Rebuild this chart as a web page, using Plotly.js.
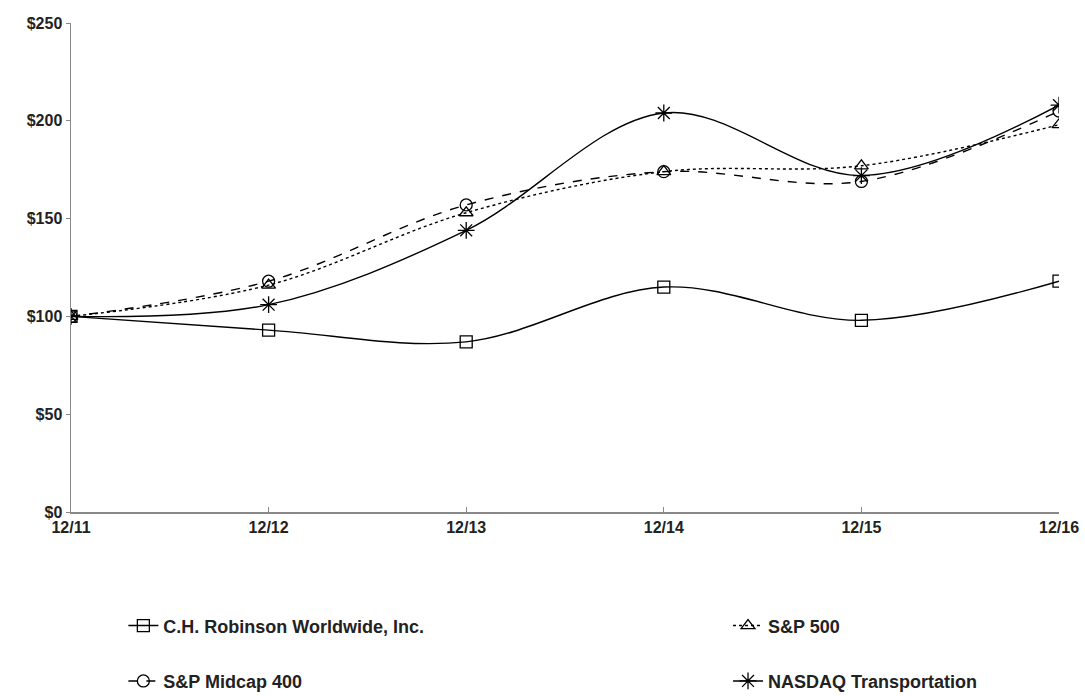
<!DOCTYPE html>
<html>
<head>
<meta charset="utf-8">
<script src="https://cdn.plot.ly/plotly-3.0.1.min.js"></script>
<style>html,body{margin:0;padding:0;background:#fff;}#chart{width:1085px;height:696px;}</style>
</head>
<body>
<div id="chart"></div>
<script>
const periods = ["12/11", "12/12", "12/13", "12/14", "12/15", "12/16"];
const chRobinson = [100, 93, 87, 115, 98, 118];
const sp500 = [100, 116, 153, 174, 177, 198];
const spMidcap400 = [100, 118, 157, 174, 169, 205];
const nasdaqTransportation = [100, 106, 144, 204, 172, 208];
const yTickVals = [0, 50, 100, 150, 200, 250];
const yTickText = ["$0", "$50", "$100", "$150", "$200", "$250"];

const FONT = "Liberation Sans, Arial, sans-serif";
function mk(name, y, dash, symbol, size, legend, group) {
  return {
    x: periods, y: y, name: name, type: "scatter", mode: "lines+markers",
    line: {color: "#000", width: 1.4, dash: dash, shape: "spline", smoothing: 1},
    marker: {symbol: symbol, size: size, color: "#000", line: {color: "#000", width: 1.3}},
    legend: legend, legendgroup: group
  };
}
const data = [
  mk("C.H. Robinson Worldwide, Inc.", chRobinson, "solid", "square-open", 12, "legend", "a"),
  mk("S&P Midcap 400", spMidcap400, "dash", "circle-open", 12, "legend", "b"),
  mk("S&P 500", sp500, "dot", "triangle-up-open", 12, "legend2", "c"),
  mk("NASDAQ Transportation", nasdaqTransportation, "solid", "asterisk-open", 14, "legend2", "d")
];
const legendFont = {family: FONT, size: 18, color: "#222", weight: "bold"};
const tickFont = {family: FONT, size: 16, color: "#222", weight: "bold"};
const layout = {
  width: 1085, height: 696,
  margin: {l: 71, r: 26, t: 23, b: 184, autoexpand: false},
  paper_bgcolor: "#fff", plot_bgcolor: "#fff",
  font: {family: FONT, size: 16, color: "#222"},
  showlegend: true,
  xaxis: {
    type: "category", range: [0, 5], showgrid: false, zeroline: false,
    showline: true, linecolor: "#888", linewidth: 1.5,
    ticks: "inside", ticklen: 5, tickcolor: "#888",
    tickfont: tickFont
  },
  yaxis: {
    range: [0, 250], showgrid: false, zeroline: false,
    showline: true, linecolor: "#888", linewidth: 1.5,
    ticks: "outside", ticklen: 4, tickcolor: "#888",
    tickvals: yTickVals, ticktext: yTickText,
    tickfont: tickFont
  },
  legend: {
    x: 0.053, y: -0.195, xanchor: "left", yanchor: "top", orientation: "v",
    tracegroupgap: 29, font: legendFont, bgcolor: "rgba(0,0,0,0)"
  },
  legend2: {
    x: 0.665, y: -0.195, xanchor: "left", yanchor: "top", orientation: "v",
    tracegroupgap: 29, font: legendFont, bgcolor: "rgba(0,0,0,0)"
  }
};
Plotly.newPlot("chart", data, layout, {displayModeBar: false, staticPlot: true});
</script>
</body>
</html>
